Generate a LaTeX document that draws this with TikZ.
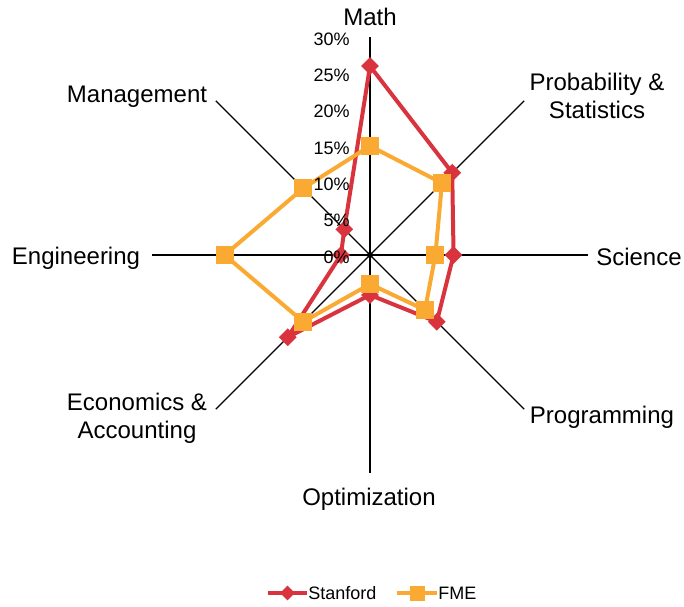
\documentclass[tikz,border=0pt]{standalone}
\usepackage{fontspec}
\setmainfont{Liberation Sans}
\usepackage{tikz}
\usetikzlibrary{shapes.geometric,positioning,calc}
\usepackage{xcolor}
\definecolor{stanred}{RGB}{217,52,62}
\definecolor{fmeorange}{RGB}{250,170,50}
\tikzset{
  axislabel/.style={font=\fontsize{12}{14}\selectfont,align=center,inner sep=0pt},
  ticklabel/.style={font=\fontsize{9}{10}\selectfont,anchor=east,inner sep=0pt},
  legendtext/.style={font=\fontsize{9}{10}\selectfont,anchor=west,inner sep=0pt},
  stanline/.style={draw=stanred,line width=2pt,line join=round},
  fmeline/.style={draw=fmeorange,line width=2pt,line join=round},
  stanmark/.style={diamond,fill=stanred,inner sep=0pt,minimum size=9pt},
  fmemark/.style={rectangle,fill=fmeorange,inner sep=0pt,minimum size=9pt}
}

\begin{document}
\begin{tikzpicture}[x=0.5pt,y=0.5pt]
  \useasboundingbox (-370,-351) rectangle (314,255);
  % spokes
  \foreach \a [count=\i] in {90,45,0,-45,-90,-135,180,135}
    \draw[line width=0.65pt] (0,0) -- (\a:218) coordinate (ax\i);
  \node[circle,fill,inner sep=0pt,minimum size=3pt] (ctr) at (0,0) {};
  % Stanford
  \foreach \a/\v [count=\i] in
   {90/26,45/16,0/11.5,-45/13,-90/5.5,-135/16,180/4,135/5}
    \coordinate (s\i) at (\a:{\v*218/30});
  \draw[stanline] (s1) -- (s2) -- (s3) -- (s4) -- (s5)
   -- (s6) -- (s7) -- (s8) -- cycle;
  \foreach \i in {1,...,8}
    \node[stanmark] (sm\i) at (s\i) {};
  % FME
  \foreach \a/\v [count=\i] in
   {90/15,45/14,0/9,-45/10.7,-90/4,-135/13,180/20,135/13}
    \coordinate (f\i) at (\a:{\v*218/30});
  \draw[fmeline] (f1) -- (f2) -- (f3) -- (f4) -- (f5)
   -- (f6) -- (f7) -- (f8) -- cycle;
  \foreach \i in {1,...,8}
    \node[fmemark] (fm\i) at (f\i) {};
  % scale
  \foreach \v in {0,5,...,30}
    \node[ticklabel] (t\v) at (-20,{\v*218/30-2}) {\v\%};
  % categories
  \node[axislabel] (math) at (0,238) {Math};
  \node[axislabel] (prob) at (227,159) {Probability \&\\Statistics};
  \node[axislabel] (sci) at (269,-2) {Science};
  \node[axislabel] (prog) at (232,-162) {Programming};
  \node[axislabel] (opt) at (-1,-244) {Optimization};
  \node[axislabel] (econ) at (-233,-163) {Economics \&\\Accounting};
  \node[axislabel] (eng) at (-294,-3) {Engineering};
  \node[axislabel] (mgmt) at (-233,158) {Management};
  % legend
  \coordinate (ls1) at (-102,-338);
  \coordinate (ls2) at (-63,-338);
  \draw[stanline] (ls1) -- (ls2);
  \node[stanmark,minimum size=7.5pt] (lsm) at ($(ls1)!0.5!(ls2)$) {};
  \node[legendtext] (lstan) at (-62,-338) {Stanford};
  \coordinate (lf1) at (27,-338);
  \coordinate (lf2) at (67,-338);
  \draw[fmeline] (lf1) -- (lf2);
  \node[fmemark,minimum size=7.5pt] (lfm) at ($(lf1)!0.5!(lf2)$) {};
  \node[legendtext] (lfme) at (68,-338) {FME};
\end{tikzpicture}
\end{document}
